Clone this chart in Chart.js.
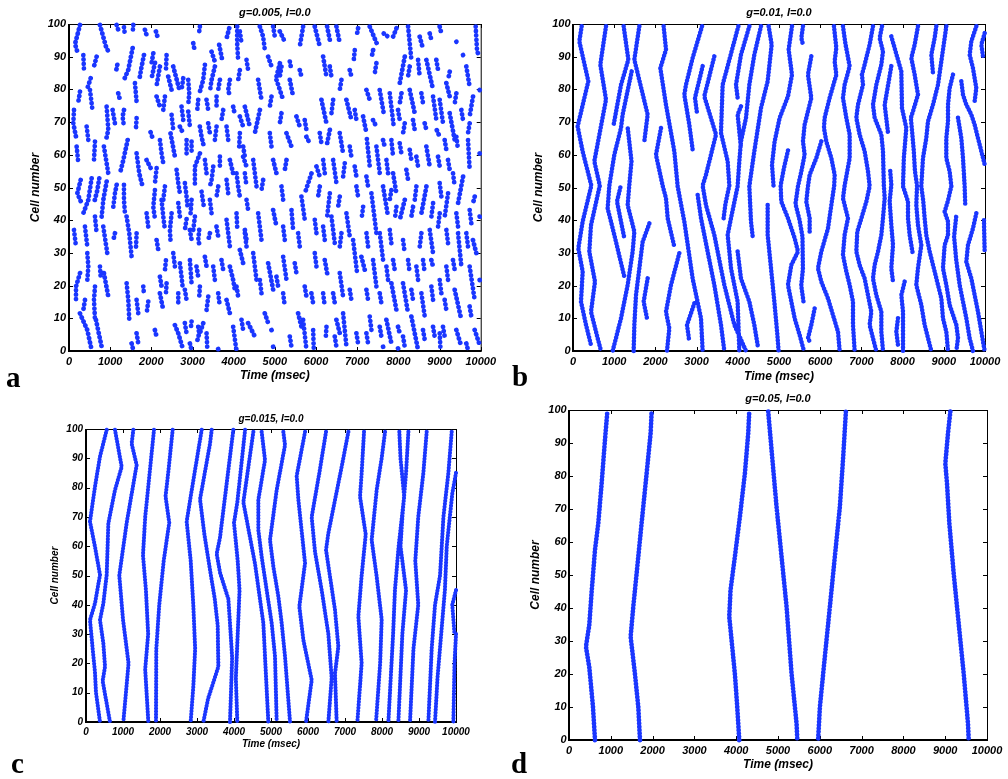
<!DOCTYPE html>
<html>
<head>
<meta charset="utf-8">
<script src="https://cdn.jsdelivr.net/npm/chart.js@4.4.1/dist/chart.umd.min.js"></script>
<style>
  body { margin: 0; background: #fff; width: 1008px; height: 779px; position: relative; overflow: hidden; }
  canvas { position: absolute; }
  .lbl { position: absolute; font: bold 29px "Liberation Serif", "Times New Roman", serif; line-height: 29px; color: #000; }
</style>
</head>
<body>
<canvas id="pa" width="500" height="390" style="left:0;top:0"></canvas>
<canvas id="pb" width="508" height="390" style="left:500px;top:0"></canvas>
<canvas id="pc" width="500" height="389" style="left:0;top:390px"></canvas>
<canvas id="pd" width="508" height="389" style="left:500px;top:390px"></canvas>
<div class="lbl" style="left:6px;top:363px">a</div>
<div class="lbl" style="left:512px;top:362px">b</div>
<div class="lbl" style="left:11px;top:749px">c</div>
<div class="lbl" style="left:511px;top:749px">d</div>
<script>
// ticks and titles
const TIME_TICKS = [0, 1000, 2000, 3000, 4000, 5000, 6000, 7000, 8000, 9000, 10000];
const CELL_TICKS = [0, 10, 20, 30, 40, 50, 60, 70, 80, 90, 100];
const TITLES = ['g=0.005, I=0.0', 'g=0.01, I=0.0', 'g=0.015, I=0.0', 'g=0.05, I=0.0'];

const wavesG005 = [
  [267,99.7,146,93.9,202,91.5],[348,90.5,364,85.9],[752,99.7,898,93.1,979,91],[671,90,607,87],
  [526,83.4,445,80.3],[510,79.8,574,73.2],[267,79.3,227,76.2],[121,73.7,105,69.6,170,65.5],
  [914,74.7,955,67.6,898,64.5],[429,68.6,469,64.5],[186,62.5,227,57.4],[631,64,607,58.4],
  [849,62.5,955,54.3],[283,52.3,202,48.2,307,45.2],[550,52.8,469,46.2,348,42.1],[736,52.8,688,49.2,607,45.2],
  [914,51.8,833,46.2,793,41.1],[121,37,170,31.9],[388,38,445,31.9],[631,41.1,671,36],
  [833,38,930,29.9],[445,29.9,469,25.8,445,21.7],[849,23.8,955,16.6],[267,23.8,170,19.7,170,15.1],
  [631,19.7,607,15.6,631,9.5],[267,11.5,445,6.4,550,0.3],[655,9.5,793,1.3],[752,25.8,769,22.7],
  [388,15.6,348,12.5],[1157,99.7,1197,98.2],[1335,99,1350,97.5],[1561,99.7,1545,97.1],
  [1845,98.2,1885,96.6],[1545,92.6,1440,86,1335,82.9],[1173,87.5,1141,85.4],[1820,90.5,1764,87,1707,82.9],
  [2047,91,2006,88],[1602,81.9,1642,76.2],[1197,78.8,1238,76.8],[1060,73.7,1116,69.6],
  [1335,73.7,1302,71.7,1335,68.6],[1642,71.2,1626,68.1],[1424,64.5,1319,58.4,1238,54.3],[1642,60.4,1707,54.3,1788,50.3],
  [1885,58.4,2006,55.4],[1157,50.8,1116,48.2,1076,44.1],[1335,50.8,1335,46.2,1359,42.1],[1400,41.1,1464,36,1521,28.8],
  [1642,36,1626,31.4],[1116,36,1076,33.9],[1885,42.1,1925,38],[1400,20.7,1440,15.6,1464,9.5],
  [1642,15.6,1683,11.5],[1804,19.7,1820,17.6],[1925,15.1,1885,11.5],[1521,2.3,1561,0.3],
  [1642,5.4,1683,2.3],[2087,6.4,2128,4.4],
  [2112,97.7,2168,95.3],[2087,88.1,2006,83.4],[2209,87,2128,81.1],[2370,90.5,2354,85.4],
  [2411,83.9,2492,79.8],[2532,87,2694,79.3],[2775,83.4,2734,79.8],[2896,82.9,2920,78.8,2896,75.2],
  [2128,77.8,2209,74.7],[2330,77.8,2290,73.7],[2492,72.2,2532,67.6],[2734,74.7,2775,70.6],
  [2896,73.2,2937,68.6],[1982,66.9,2047,64.5],[2209,64.5,2249,60.4,2290,57.4],[2467,66.5,2573,59.4],
  [2694,68.6,2775,66.5],[2856,64.5,2856,59.4],[2128,55.9,2087,51.3],[2330,50.3,2290,46.2],
  [2613,55.4,2654,51.3,2694,48.2],[2815,51.3,2856,47.2,2880,44.1],[2977,46.2,2953,42.1],[2087,49.2,2047,44.1,2087,40.5],
  [2249,46.2,2290,41.1,2330,37],[2492,42.1,2451,37,2467,33.4],[2654,45.2,2694,41.1],[2856,40.3,2815,37],
  [2937,37,2977,34],[2128,33.9,2168,30.9],[2354,27.7,2330,24.7],[2532,29.9,2573,25.8],
  [2694,26.8,2734,22.7,2759,19.7],[2937,27.8,2977,20.7],[2209,22.7,2249,19.7],[2370,20.7,2354,17.6],
  [2209,17.6,2290,12.5],[2654,17.6,2654,14.6],[2815,18.7,2856,15.6],[2573,7.9,2654,5.4,2775,0.3],
  [2815,8.5,2856,5.4],[2977,9,2953,6.4],[2937,2.3,2977,0.3],
  [3179,99.2,3163,97.7],[3018,94.1,3058,91.5],[3463,91.5,3543,88.5],[3649,93.6,3729,88.5],
  [3891,98.7,3827,95.6],[4085,99.2,4085,94.1,4110,88.5],[3301,87.5,3260,82.9,3179,79.3],[3543,87,3463,82.9,3422,79.3],
  [3665,82.9,3624,79.8],[3908,82.9,3867,79.8,3908,77.8],[4150,85.9,4110,82.9],[3139,76.8,3115,73.7],
  [3341,76.8,3382,73.7],[3584,77.8,3584,74.7],[3746,73.7,3705,70.6],[3988,74.7,4029,72.2],
  [4150,71.7,4231,68.6],[3179,68.6,3220,65.5,3276,62.5],[3382,69.6,3422,66.6],[3584,68.6,3543,64.5],
  [3827,68.6,3867,64.5],[4150,66.6,4134,62.5],[2977,64,2977,61],[3179,60.4,3058,56.4,3058,50.3],
  [3301,58.4,3341,54.3],[3503,56.4,3463,52.3,3422,50.3],[3665,59.4,3665,55.4],[3908,58.4,3988,54.3],
  [4231,59.4,4312,56.4],[3220,48.7,3276,44.1],[3422,46.2,3463,42.1],[3624,50.3,3584,47.2],
  [3827,52.3,3867,48.2],[4069,54.3,4110,50.3,4150,47.2],[3058,41.1,3018,37],[3163,37,3139,34,3179,31.9],
  [3422,36,3382,33.9],[3584,38,3624,35],[3827,40.1,3867,36,3908,31.9],[4069,42.1,4085,38],
  [4272,37,4312,34],[3098,25.8,3139,22.7],[3301,28.8,3341,25.8],[3503,25.8,3543,21.7],
  [3705,27.8,3746,24.8],[3908,25.8,3988,21.7,4029,18.7],[4150,30.9,4231,26.8],[3179,19.7,3163,16.6],
  [3382,16.6,3341,12.5],[3624,17.6,3665,13.6],[3827,15.6,3908,11.5],[4069,19.7,4110,16.6],
  [3139,7.4,3163,5.4,3098,2.3],[3260,8.5,3179,5.4],[3341,5.4,3357,1.3],[3624,0.6,3630,0.3],
  [3988,7.4,4053,1.3,4070,0.3],[4191,9.5,4231,6.4],
  [4150,97.7,4191,94.1],[4636,99.2,4716,96.1,4757,92],[4959,99.2,5000,96.1],[4312,89,4352,85.9],
  [4838,90,4919,87],[5121,88,5040,83.9],[4595,82.9,4676,76.8],[4919,77.8,4878,74.7],
  [4272,74.7,4393,68.6],[4636,73.7,4514,66.6],[4878,66.6,4919,62.5],[4231,62.5,4272,59.4],
  [4474,58.4,4555,50.3],[4959,58.4,5040,54.3],[4272,54.3,4312,50.3],[4716,52.3,4676,49.2],
  [4959,43.1,5040,38],[4312,46.2,4352,43.1],[4595,42.1,4676,33.9],[4272,36,4312,31.9],
  [4474,29.9,4555,21.7],[4838,26.8,4959,18.7],[5040,22.7,5081,19.7],[4636,21.7,4676,17.6],
  [4757,11.5,4838,8.5],[4352,8.5,4514,4.4],[4919,6.4,4959,5.4],[4959,1.3,4975,0.3],
  [5121,97.7,5242,94.6],[5687,99.2,5606,93.1],[5364,88.5,5404,85.9],[5161,87,5121,83.9],
  [5040,82.9,5202,76.8],[5364,82.9,5444,77.8],[5606,85.9,5646,83.9],[5970,99.2,6092,93.1],
  [5161,72.7,5121,69.6],[5525,71.7,5606,68.6],[5727,70.6,5768,67.6],[5283,66.6,5404,62.5],
  [5768,65.5,5849,63.5],[5283,58.4,5242,55.4],[5889,54.3,5727,48.2],[6011,56.4,6092,53.3],
  [5161,50.3,5202,46.2],[5404,43.1,5444,37],[5646,47.2,5727,40.1],[5202,38,5242,33.9],
  [5565,36,5606,31.9],[5970,40.1,6011,36],[5202,28.8,5283,21.7],[5485,26.8,5525,23.8],
  [5970,29.9,6011,25.8],[5202,17.6,5242,13.6],[5727,19.7,5768,16.6],[5566,11.5,5646,7.4],
  [5889,17.6,5930,14.6],[5687,9.5,5768,0.3],[5364,4.4,5404,1.3],[5930,6.4,5946,0.3],
  [6270,99.2,6351,94.1],[6496,99.2,6577,94.1],[6173,90,6254,83.9],[6335,87,6375,83.9],
  [6618,82.9,6577,79.8],[7022,98.7,6998,97.1],[6941,92,6917,89],[6820,85.9,6860,83.9],
  [6132,76.8,6254,69.6],[6416,76.8,6375,72.7],[6739,76.8,6860,70.6],[6941,73.7,6982,70.6],
  [6092,66.6,6132,63.5],[6335,67.6,6254,62.5],[6577,66.6,6658,60.4],[6820,62.5,6860,59.4],
  [6173,58.4,6213,54.3],[6416,58.4,6496,51.3],[6698,57.4,6658,53.3],[6941,56.4,6982,53.3],
  [6092,50.3,6051,47.2],[6335,48.2,6270,41.1],[6577,47.2,6537,44.1],[6739,42.1,6820,35],
  [6982,50.3,7022,47.2],[6173,38,6213,33.9],[6375,41.1,6456,32.9],[6618,36,6577,31.9],
  [6901,33.9,6998,23.8],[6213,27.8,6270,23.8],[6577,23.8,6658,16.6],[6820,18.7,6860,15.6],
  [6173,17.6,6213,13.6],[6416,17.6,6456,14.6],[6658,11.5,6739,1.3],[6254,7.4,6238,4.4],
  [6496,9.5,6577,5.4],[6982,5.4,7022,2.3],[6456,4.4,6496,1.3],
  [7305,99.2,7507,93.1],[7645,97.1,7750,96.1],[7953,98.7,7872,96.1],[7386,92,7346,89.5],
  [7467,88,7427,84.9],[7225,79.8,7305,76.8],[7548,79.8,7645,72.7],[7791,78.8,7888,68.6],
  [7993,73.7,8034,70.6],[7144,71.7,7225,66.6],[7386,70.6,7467,68.6],[7629,64.5,7669,62.5],
  [7831,64.5,7872,59.4],[7235,64.8,7305,56.4],[7467,62.5,7548,54.3],[7710,58.4,7750,54.3],
  [7872,54.3,7953,48.2],[7225,53.3,7265,50.3],[7346,48.2,7467,36],[7629,50.3,7750,41.1],
  [7831,49.2,7791,46.2],[7953,44.1,7912,40.1],[7144,44.1,7103,40.1],[7225,36,7265,31.9],
  [7548,36,7629,27.8],[7791,37,7831,32.9],[7103,28.8,7184,24.8],[7386,27.8,7467,19.7],
  [7710,25.8,7750,21.7],[7872,27.8,7912,24.8],[7225,18.7,7265,15.6],[7548,17.6,7588,14.6],
  [7831,20.7,7953,12.5],[7305,10.5,7346,6.4],[7548,7.4,7588,4.4],[7710,9.5,7831,2.3],
  [7993,7.4,8034,5.4],[7225,5.4,7265,2.3],[7629,1.3,7645,0.3],[7993,0.8,8018,0.1],
  [8236,99.2,8317,89],[8519,96.1,8584,93.1],[8762,97.1,8802,95.1],[9004,99.2,9045,97.1],
  [8155,90,8034,81.9],[8276,87,8236,83.9],[8479,89,8519,83.9],[8681,89,8827,80.8],
  [8923,89,8964,85.9],[8075,78.8,8034,75.7],[8276,79.8,8398,72.7],[8560,78.8,8600,75.7],
  [8843,77.8,8923,70.6],[9004,76.8,9085,69.6],[8155,69.6,8114,66.6],[8357,70.6,8398,67.6],
  [8641,69.6,8681,67.6],[8935,67.5,9004,65.5],[8034,63.5,8075,60.4],[8276,61.5,8317,58.4],
  [8438,59.4,8479,56.4],[8681,62.5,8762,56.4],[8964,59.4,9004,56.4],[8195,55.4,8236,52.3],
  [8438,50.3,8398,46.2],[8681,50.3,8560,42.1],[8843,45.2,8802,41.1],[9004,51.3,9045,47.2],
  [8155,46.2,8034,40.1],[8357,44.1,8317,41.1],[8560,36,8519,31.9],[8762,37,8843,29.9],
  [9004,42.1,8964,38],[8114,33.9,8155,29.9],[8236,27.8,8276,23.8],[8438,25.8,8479,21.7],
  [8600,27.8,8641,23.8],[8802,27.8,8843,25.8],[8114,20.7,8236,11.5],[8317,18.7,8357,15.6],
  [8560,17.6,8641,10.5],[8802,19.7,8843,15.6],[9004,21.7,9045,17.6],[8317,10.5,8479,0.3],
  [8600,6.4,8641,3.4],[8843,7.4,8883,4.4],[8114,4.4,8155,1.3],[9004,5.4,9020,1.3],
  [9878,99.2,9910,92,9959,90],[9409,94.6,9425,94.3],[9571,90.5,9587,90.2],[9247,85.4,9207,82.9],
  [9651,87,9732,80.8],[9975,79.8,9991,79.6],[9166,81.9,9247,77.8],[9409,78.8,9369,75.7],
  [9813,77.8,9732,71.7],[9247,72.7,9369,64.5],[9531,73.7,9571,70.6],[9732,69.6,9692,66.6],
  [9126,64.5,9166,61.5],[9409,65.5,9450,61.5],[9692,64.5,9732,55.4],[9975,60.4,9991,59.4],
  [9207,58.4,9247,55.4],[9328,54.3,9369,50.3],[9571,53.3,9450,45.2],[9854,47.2,9813,45.2],
  [9207,48.2,9126,41.1],[9409,42.1,9450,38],[9732,43.1,9773,39],[9975,41.1,9991,40.1],
  [9166,37,9207,32.9],[9450,36,9531,25.8],[9651,36,9692,31.9],[9813,33.9,9894,29.9],
  [9166,25.8,9207,21.7],[9328,27.8,9369,24.8],[9732,25.8,9854,15.6],[9975,21.7,9991,20.7],
  [9369,18.7,9531,9.5],[9126,15.6,9166,12.5],[9732,13.6,9773,10.5],[9085,7.4,9126,4.4],
  [9409,6.4,9531,1.3],[9854,6.4,9991,1.3],[9651,2.3,9692,0.3]
];

const wavesG01 = [
  [210,99.3,154,94.7,372,82.5,113,68.7,235,61,445,50.6,235,39.6,129,31.4,235,24.3,194,15.1,316,8,437,1.8],
  [801,99.3,663,87.6,801,76.9,518,58,650,50.6,437,38.5,396,30.4,534,21.2,437,12,558,5.9,680,0],
  [1230,99.3,1343,89.1,1165,81.4,979,68.7],
  [1610,99.3,1489,89.1,1812,72.3,1731,64.1],
  [1424,85.5,1205,72.3,1165,68.2,1003,60,882,50.6,841,43.6,1003,35.5,1246,22.7],
  [1149,50,1068,45.7,1246,34.5],
  [1330,68,1420,58,1367,50.8,1327,44.6,1489,36.5,1448,30.4,1327,20.2,1165,10,963,0],
  [1853,39,1691,33.4,1529,17.1,1489,8,1472,0],
  [1812,22.2,1715,15.1,1796,10],
  [2200,99.3,2257,92.2,2120,86.5,2257,75.3,2459,61.1,2540,50.4,2702,39.6,2904,22.2,3107,10,3147,0],
  [2136,68.2,2014,60,2176,50.6,2257,46.7,2298,40.6,2459,31.9],
  [2580,29.9,2378,20.2,2257,12,2338,6.9,2281,0],
  [2945,14.6,2767,8,2823,2.9],
  [3131,99.3,2904,89.6,2742,81.4,2702,78.4,2823,69.2,2904,61.6],
  [3147,87.1,2961,77.4,3009,72.8],
  [3430,90.1,3187,77.9,3471,66.2,3228,53.9,3147,50.6,3228,44.6,3430,35.5,3673,20.2,3916,8,4199,0],
  [4013,99.3,3632,81.4,3592,66.7,3754,58,3794,50.6,3700,45,3650,40],
  [4280,99.3,4077,90.6,3956,81.4,3996,77.4],
  [4077,74.8,3996,72.3,4077,62.1],
  [4563,99.3,4401,90.6,4280,81.4,4199,71.3,4077,64.1,4037,58,3996,50.4,3835,40.6,3754,35.5,3835,25.3,3996,15.1,4037,0],
  [3026,47.7,3107,40.6,3268,30.4,3430,20.2,3592,8,3673,0],
  [4749,99.3,4822,93.7,4725,82.5,4563,74.3,4401,61.1,4280,50.4,4320,39.6,4361,35],
  [3996,30.4,4077,22.2,4280,15.1,4401,8,4482,1.8],
  [4725,44.6,4725,35.5,4806,25.3,4887,15.1,4960,5,4990,0],
  [5315,99.3,5234,92.2,5315,84.5,5218,77.9,5016,71.3,4894,64.1,4830,57,4870,50],
  [5218,61.3,5121,56,5040,50.6,5056,45.7,5218,40.6,5380,34.5,5461,30.4,5299,26.3,5218,20.2,5299,15.1,5380,10,5501,4.9,5606,0],
  [5784,90.1,5703,84.5,5784,77.4,5622,69.2,5582,64.1,5622,60,5542,54.9,5461,50.4,5400,45,5500,40,5570,35,5580,25,5540,20,5600,14.6],
  [6027,64.1,5905,59,5744,53.9,5703,50.4,5663,45.7,5744,40.6,5744,36.5],
  [5865,13,5784,8,5703,3.9,5744,2.9],
  [6334,99.3,6391,92.7,6351,88.6,6391,84.5,6229,77.4,6108,71.3,6092,68.2,6148,64.1,6270,59,6351,53.9,6340,50.6,6270,44.6,6189,37.5,6027,30.4,5946,25.3,6027,21.2,6189,16.1,6310,11,6432,5.9,6472,0],
  [6553,99.3,6609,94.2,6715,87.1,6593,81.4,6553,77.4,6634,71.3,6715,66.2,6715,59,6593,50.6,6553,46.7,6674,40.6,6593,35.5,6553,29.4,6634,24.3,6715,20.2,6796,15.1,6796,8,6836,0],
  [7281,99.3,7200,93.7,7079,87.6,7014,84.5,7038,81.4,6917,75.3,6877,71.3,6957,66.2,7079,61.1,7160,55,7200,50.4,7120,45.7,7000,40.6,6900,36.5,6877,30.4,6957,26.3,7079,22.2,7160,17.1,7241,12,7200,8,7281,3.9,7362,0],
  [7500,99.3,7443,95.7,7524,91.6,7484,87.6,7362,81.4,7281,75.3,7322,71.3,7484,66.2,7524,61.1,7545,50.6,7565,46.7,7524,40.6,7484,35.5,7403,30.4,7322,26.3,7281,22.2,7362,17.1,7484,12,7484,5.9,7524,0],
  [7726,96.2,7969,85.5,7985,74.3,8090,68.2,8030,59,8010,50.4,8131,45.7,8131,40.6,8171,35.5,8252,29.4],
  [7726,87.1,7565,75.3,7646,66.7],
  [7700,55,7726,50.8,7686,45.7,7726,38.5,7767,32.4,7726,25.3,7767,21.2],
  [8373,99.3,8293,93.7,8212,89.6,8293,84.5,8373,78.4,8252,73.3,8200,71.3,8230,67.2,8272,61.1,8300,55,8350,50.6,8333,44.6,8373,38.5,8454,32.4,8373,25.3,8333,20.2,8454,14.1,8535,8,8697,0],
  [8818,99.3,8778,95.7,8697,90.6,8737,85],
  [9061,99.3,9021,95.7,8940,88.6,8859,81.4,8737,75.3,8616,70.2,8575,65.1,8495,59,8454,50.4,8500,46,8535,40.6,8575,35.5,8657,30.4,8778,24.3,8859,20.2,8940,16.1,8980,10,9061,5.9,9102,0],
  [9223,84.5,9142,80.4,9102,75.3,9102,70.2,9061,65.1,9061,59,9142,54.9,9183,50.4,9102,46,9021,42.6,9102,39.6,9102,35.5,9021,32.4,8980,25.3,9061,20.2,9142,14.1,9304,8,9345,3.9,9304,0],
  [9425,82.5,9466,78.4,9547,75.3,9668,72.3,9749,69.2,9830,65.1,9911,61.1,9992,57],
  [9345,71.3,9385,68.2,9425,65.1,9466,59,9506,50.4,9520,44.7],
  [9789,99.3,9668,94.7,9628,90.6,9708,86.5,9789,80.4,9749,76.4,9708,76],
  [9992,97.2,9911,93.7,9951,90.1],
  [5582,99.3,5542,95.7,5582,93.7],
  [9300,41,9250,35,9300,28,9385,20.2,9466,15.1,9547,10,9628,3.9,9708,0],
  [9789,42.1,9708,37.5,9587,32.4,9547,27.3,9668,22.2,9749,17.1,9830,12,9911,5.9,9992,0],
  [8050,21.2,7969,17.1,8010,12,8010,8,8010,0],
  [7888,10,7848,5.9,7888,1.8],
  [9975,40,9992,30]
];

const wavesG015 = [
  [559,99.7,378,90.6,243,80.3,108,68.4,243,59.8,378,50.2,243,40.5,108,34.8,180,25,243,17,270,10,378,0],
  [784,99.7,964,87.1,784,79.2,604,67.8,559,50.2,469,40.5,378,34.8,469,26.8,514,18.9,450,14,649,0],
  [1279,99.7,1234,95,1369,87.7,1100,68,900,50,1000,35,1150,20,1009,0],
  [1838,99.7,1720,85,1600,70,1540,57,1620,45,1680,30,1600,18,1685,0],
  [2343,99.7,2230,86,2150,77,2250,68,2100,55,1980,40,1900,25,1892,0],
  [3127,99.7,2856,79,2721,68.4,2830,55,2900,40,2950,25,2900,12,2829,0],
  [3397,99.7,3352,95,3082,76,3200,64,3350,52,3480,42,3560,33,3577,18.9,3300,8,3172,0],
  [3982,99.7,3892,90.6,3622,63,3532,57.4,3622,51,3847,42,3892,33.7,3950,22,3892,0],
  [4300,99.7,4200,88,4090,75,4000,68,4100,55,4150,45,4100,30,4050,15,4090,0],
  [4523,99,4253,75,4568,54,4793,33.7,4928,0],
  [4748,99,4838,89.4,4658,75.8,4658,65.5,4748,56.4,4883,45,5019,33.7,5109,22.3,5154,0],
  [5334,99,5379,94.5,5154,79.2,4973,62.1,5064,53,5199,42.8,5289,33.7,5379,22.3,5514,0],
  [5920,99,5694,84,5739,76,5920,54.2,5766,39.4,5875,28,6100,14.3,5947,0],
  [6487,99,6307,85,6100,70,6190,58,6370,45,6550,30,6640,15,6550,0],
  [7091,99,6910,87.1,6730,75.8,6550,64.4,6487,58.7,6595,49.6,6730,38.2,6820,25.7,6730,16.6,6775,0],
  [7514,99,7450,85,7406,76.9,7560,64,7450,50,7361,36,7450,20,7334,0],
  [8082,99,7991,90,7856,79.2,7721,62.1,7856,49.6,7991,35,7950,20,7838,0],
  [8469,99,8500,90,8600,77,8450,60,8350,45,8300,30,8172,0],
  [8713,99,8650,85,8550,70,8500,60,8650,45,8550,30,8442,0],
  [9208,99,9118,85,8980,70,8900,55,8980,40,8850,25,8757,0],
  [9884,99,9794,85,9660,70,9568,50,9433,40,9343,25,9253,0],
  [10000,85,9900,78,9750,60,9700,45,9600,30,9500,15,9433,0],
  [10000,45,9900,40,9960,30],
  [10000,30,9960,20,9929,0]
];

const wavesG05 = [
  [622,0,574,10,486,22,406,28.3,486,35,542,45,622,57.6,701,65.7,781,77.8,861,91,917,99.5],
  [1698,0,1658,10,1578,20,1474,31.3,1538,40.4,1618,50.5,1737,65.7,1857,80.8,1953,93,1977,99.5],
  [4073,0,4025,10,3969,20,3889,30.3,3834,37.4,3865,45.5,3969,55.6,4089,67.7,4208,80.8,4288,93,4312,99.5],
  [4766,99.5,4846,87.9,4965,70.7,5085,55.6,5205,40.4,5324,20.2,5444,5,5460,0.5],
  [5962,0.5,6002,10,6121,25.3,6241,40.4,6360,55.6,6480,70.7,6560,85.9,6624,99.5],
  [9123,99.5,9067,93,9003,83.8,9043,77.8,9099,65.7,9203,50.5,9322,35.4,9442,20.2,9545,5,9561,0.5]
];

const DOT = 'rgb(26,54,255)';
const FONT = '"Liberation Sans", Arial, sans-serif';

// flatten waves into one point list, null between waves breaks the line
function toPoints(waves) {
  const pts = [];
  waves.forEach(w => {
    for (let i = 0; i < w.length; i += 2) pts.push({ x: w[i], y: w[i + 1] });
    pts.push({ x: w[w.length - 2], y: null });
  });
  return pts;
}

// MATLAB-like box with inward ticks, plus the panel title
const framePlugin = {
  id: 'frame',
  beforeDatasetsDraw(chart, args, opts) {
    const { ctx, chartArea: a, scales: { x, y } } = chart;
    ctx.save();
    ctx.strokeStyle = '#000';
    ctx.lineWidth = 1;
    ctx.beginPath();
    TIME_TICKS.forEach(v => {
      const px = Math.round(x.getPixelForValue(v)) + 0.5;
      ctx.moveTo(px, a.bottom); ctx.lineTo(px, a.bottom - 4);
      ctx.moveTo(px, a.top); ctx.lineTo(px, a.top + 4);
    });
    CELL_TICKS.forEach(v => {
      const py = Math.round(y.getPixelForValue(v)) + 0.5;
      ctx.moveTo(a.left, py); ctx.lineTo(a.left + 4, py);
      ctx.moveTo(a.right, py); ctx.lineTo(a.right - 4, py);
    });
    ctx.moveTo(a.left, a.top + 0.5); ctx.lineTo(a.right, a.top + 0.5);
    ctx.moveTo(a.right + 0.5, a.top); ctx.lineTo(a.right + 0.5, a.bottom);
    ctx.stroke();
    ctx.lineWidth = 2;
    ctx.beginPath();
    ctx.moveTo(a.left, a.top); ctx.lineTo(a.left, a.bottom); ctx.lineTo(a.right + 1, a.bottom);
    ctx.stroke();
    ctx.fillStyle = '#000';
    ctx.font = 'italic bold ' + opts.size + 'px ' + FONT;
    ctx.textAlign = 'center';
    ctx.textBaseline = 'middle';
    ctx.fillText(opts.text, (a.left + a.right) / 2, opts.y);
    ctx.restore();
  }
};

function makePanel(id, waves, title, p) {
  const tickFont = { family: FONT, weight: 'bold', style: 'italic', size: p.tick };
  const axisFont = { family: FONT, weight: 'bold', style: 'italic', size: p.axis };
  new Chart(document.getElementById(id), {
    type: 'line',
    data: {
      datasets: [{
        data: toPoints(waves),
        borderColor: DOT,
        borderWidth: p.dot,
        borderDash: [0.01, p.gap],
        borderCapStyle: 'round',
        borderJoinStyle: 'round',
        pointRadius: 0,
        tension: 0,
        fill: false,
        spanGaps: false,
        clip: 6
      }]
    },
    options: {
      responsive: false,
      animation: false,
      events: [],
      layout: { padding: { left: 0, top: p.padTop, right: p.padRight, bottom: 0 } },
      plugins: {
        legend: { display: false },
        tooltip: { enabled: false },
        frame: { text: title, y: p.titleY, size: p.titleSize }
      },
      scales: {
        x: {
          type: 'linear', min: 0, max: 10000,
          grid: { display: false, drawTicks: false },
          border: { display: false },
          afterBuildTicks: s => { s.ticks = TIME_TICKS.map(v => ({ value: v })); },
          afterFit: s => { s.height = p.xHeight; },
          ticks: { color: '#000', font: tickFont, padding: p.xTickPad, maxRotation: 0, autoSkip: false, callback: v => String(v) },
          title: { display: true, text: 'Time (msec)', color: '#000', font: axisFont, padding: { top: 0, bottom: p.xTitlePad } }
        },
        y: {
          type: 'linear', min: 0, max: 100,
          grid: { display: false, drawTicks: false },
          border: { display: false },
          afterBuildTicks: s => { s.ticks = CELL_TICKS.map(v => ({ value: v })); },
          afterFit: s => { s.width = p.yWidth; },
          ticks: { color: '#000', font: tickFont, padding: p.yTickPad, autoSkip: false, callback: v => String(v) },
          title: { display: true, text: 'Cell number', color: '#000', font: axisFont, padding: { top: p.yTitlePad, bottom: 0 } }
        }
      }
    },
    plugins: [framePlugin]
  });
}

makePanel('pa', wavesG005, TITLES[0], { padTop: 24, padRight: 19, yWidth: 69, xHeight: 39, tick: 11, axis: 12,
  xTickPad: 4, yTickPad: 3, xTitlePad: 6.8, yTitlePad: 28, titleY: 12.5, titleSize: 11, dot: 4.8, gap: 4.4 });
makePanel('pb', wavesG01, TITLES[1], { padTop: 24, padRight: 23, yWidth: 73, xHeight: 39, tick: 11, axis: 12,
  xTickPad: 4, yTickPad: 2.5, xTitlePad: 6.1, yTitlePad: 31.8, titleY: 13, titleSize: 11, dot: 4.6, gap: 3.3 });
makePanel('pc', wavesG015, TITLES[2], { padTop: 39, padRight: 44, yWidth: 86, xHeight: 57, tick: 10, axis: 10,
  xTickPad: 4, yTickPad: 3, xTitlePad: 29, yTitlePad: 49, titleY: 29, titleSize: 10, dot: 4.2, gap: 3 });
makePanel('pd', wavesG05, TITLES[3], { padTop: 20, padRight: 21, yWidth: 69, xHeight: 39, tick: 11, axis: 12,
  xTickPad: 4, yTickPad: 2.3, xTitlePad: 6.8, yTitlePad: 28, titleY: 9, titleSize: 11, dot: 4.8, gap: 3.3 });
</script>
</body>
</html>
